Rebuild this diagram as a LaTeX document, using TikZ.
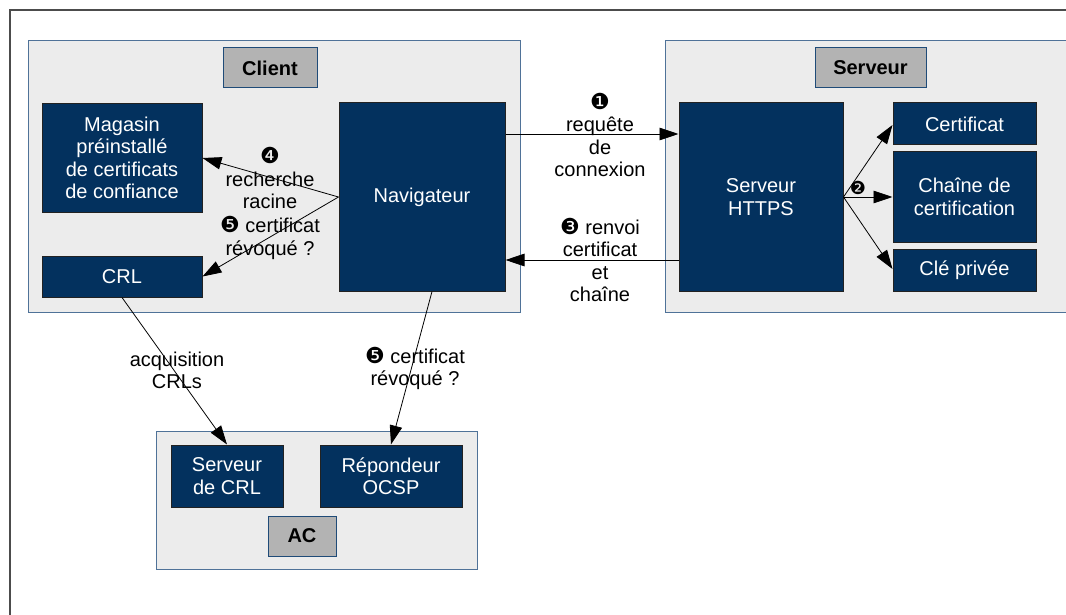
\documentclass[tikz,border=0pt]{standalone}
\usepackage{fontspec}
\setmainfont{Liberation Sans}
\newfontfamily\dingfont{DejaVu Sans}
\usetikzlibrary{arrows.meta}
\definecolor{navy}{HTML}{03315E}
\definecolor{panel}{HTML}{ECECEC}
\definecolor{panelline}{HTML}{4F7298}
\definecolor{tagfill}{HTML}{B3B3B3}
\definecolor{tagline}{HTML}{1F4B78}
\definecolor{boxline}{HTML}{222222}
\newcommand{\dnum}[1]{{\dingfont\fontsize{22}{16}\selectfont#1}}
\tikzset{
  txt/.style={font=\fontsize{20}{22.5}\selectfont},
  panelbox/.style={draw=panelline, fill=panel, line width=1pt},
  tagbox/.style={draw=tagline, fill=tagfill, line width=1pt, txt, font=\fontsize{20}{22.5}\selectfont\bfseries, inner sep=0pt},
  darkbox/.style={draw=boxline, fill=navy, line width=1pt, text=white, align=center, inner sep=0pt, txt},
  lbl/.style={align=center, inner sep=0pt, txt},
  link/.style={-{Triangle[length=19pt,width=12.5pt]}, line width=0.8pt, draw=black},
}
\begin{document}
\begin{tikzpicture}[x=1pt, y=-1pt]
\useasboundingbox (0,0) rectangle (1066,615);
% outer frame (runs past the page edge)
\draw[line width=1.2pt, draw=black!70] (10,640) -- (10,10) -- (1090,10);

% containers
\node[panelbox, minimum width=492pt, minimum height=271pt] (client) at (274,176.5) {};
\draw[panelbox] (665,41) rectangle (1090,312);
\node[panelbox, minimum width=321pt, minimum height=138pt] (ac) at (316.5,500) {};

% container tags
\node[tagbox, minimum width=94pt, minimum height=40pt] (tclient) at (270,68) {Client};
\node[tagbox, minimum width=111pt, minimum height=40pt] (tserveur) at (870.5,68) {Serveur};
\node[tagbox, minimum width=68pt, minimum height=40pt] (tac) at (302,536) {AC};

% client side
\node[darkbox, minimum width=160pt, minimum height=108pt] (mag) at (122,158)
  {Magasin\\préinstallé\\de certificats\\de confiance};
\node[darkbox, minimum width=160pt, minimum height=41pt] (crl) at (122,276.5) {CRL};
\node[darkbox, minimum width=166pt, minimum height=188pt] (nav) at (422,197) {Navigateur};

% server side
\node[darkbox, minimum width=164pt, minimum height=188pt] (https) at (761,197) {Serveur\\HTTPS};
\node[darkbox, minimum width=143pt, minimum height=42pt] (cert) at (964.5,124) {Certificat};
\node[darkbox, minimum width=143pt, minimum height=90pt] (chaine) at (964.5,197) {Chaîne de\\certification};
\node[darkbox, minimum width=143pt, minimum height=42pt] (cle) at (964.5,270) {Clé privée};

% certification authority
\node[darkbox, minimum width=112pt, minimum height=62pt] (srvcrl) at (227,476) {Serveur\\de CRL};
\node[darkbox, minimum width=142pt, minimum height=62pt] (ocsp) at (391,476) {Répondeur\\OCSP};

% connectors
\draw[link] ([yshift=63pt]nav.east) -- ([yshift=63pt]https.west);
\draw[link] ([yshift=-63pt]https.west) -- ([yshift=-63pt]nav.east);
\draw[link] (nav.west) -- (mag.east);
\draw[link] (nav.west) -- (crl.east);
\draw[link] (https.east) -- ([yshift=-1pt]cert.west);
\draw[link] (https.east) -- (chaine.west);
\draw[link] (https.east) -- ([yshift=1pt]cle.west);
\draw[link] (crl.south) -- (srvcrl.north);
\draw[link] ([xshift=10pt]nav.south) -- (ocsp.north);

% connector labels
\node[lbl] (l1) at (600,135) {\dnum{❶}\\requête\\de\\connexion};
\node[lbl] (l3) at (600,260) {\dnum{❸} renvoi\\certificat\\et\\chaîne};
\node[lbl] (l4) at (270,178) {\dnum{❹}\\recherche\\racine};
\node[lbl] (l5a) at (270,238) {\dnum{❺} certificat\\révoqué ?};
\node[lbl] (l2) at (858,188) {{\dingfont\fontsize{18}{18}\selectfont❷}};
\node[lbl] (lacq) at (177,370.5) {acquisition\\CRLs};
\node[lbl] (l5b) at (415,368.5) {\dnum{❺} certificat\\révoqué ?};
\end{tikzpicture}
\end{document}
